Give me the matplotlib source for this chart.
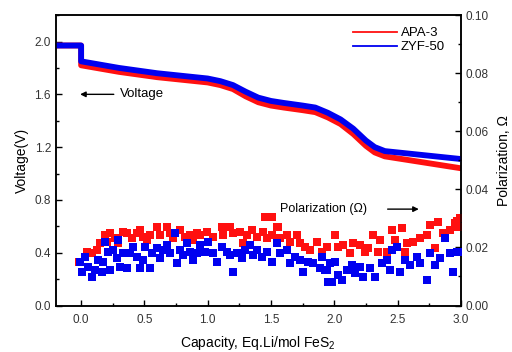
import matplotlib
matplotlib.use("Agg")
import matplotlib.pyplot as plt
from matplotlib.ticker import MultipleLocator, FormatStrFormatter
from matplotlib.lines import Line2D

plt.rcParams['font.family'] = ['Liberation Sans', 'DejaVu Sans']
plt.rcParams['mathtext.fontset'] = 'custom'
plt.rcParams['mathtext.rm'] = 'Liberation Sans'

# Voltage curves (capacity, voltage)
cap_zyf = [-0.2, 0.0, 0.0, 0.3, 0.6, 0.9, 1.0, 1.1, 1.2, 1.3, 1.4, 1.5, 1.6, 1.75, 1.85, 1.95, 2.05, 2.15, 2.25, 2.32, 2.4, 2.6, 2.8, 3.0]
v_zyf = [1.97, 1.97, 1.85, 1.80, 1.76, 1.73, 1.72, 1.70, 1.67, 1.62, 1.575, 1.55, 1.535, 1.515, 1.50, 1.46, 1.41, 1.34, 1.25, 1.20, 1.17, 1.15, 1.13, 1.11]
cap_apa = [-0.2, 0.0, 0.0, 0.3, 0.6, 0.9, 1.0, 1.1, 1.2, 1.3, 1.4, 1.5, 1.6, 1.75, 1.85, 1.95, 2.05, 2.15, 2.25, 2.32, 2.4, 2.6, 2.8, 3.0]
v_apa = [1.97, 1.97, 1.82, 1.77, 1.73, 1.70, 1.69, 1.67, 1.64, 1.585, 1.54, 1.515, 1.50, 1.48, 1.465, 1.425, 1.375, 1.30, 1.21, 1.16, 1.13, 1.10, 1.07, 1.04]

# Polarization points (capacity, ohm)
pol_apa_x = [-0.02, 0.045, 0.085, 0.124, 0.150, 0.190, 0.203, 0.229, 0.269, 0.295, 0.334, 0.361, 0.400, 0.440,
             0.466, 0.492, 0.519, 0.545, 0.598, 0.624, 0.677, 0.703, 0.729, 0.782, 0.821, 0.861, 0.887, 0.914,
             0.940, 0.993, 1.045, 1.111, 1.124, 1.177, 1.203, 1.256, 1.282, 1.309, 1.348, 1.388, 1.440, 1.467,
             1.506, 1.558, 1.572, 1.625, 1.651, 1.704, 1.730, 1.769, 1.809, 1.862, 1.901, 1.941, 1.45, 1.51, 1.546,
             2.006, 2.033, 2.072, 2.125, 2.151, 2.204, 2.243, 2.270, 2.309, 2.348, 2.362, 2.415, 2.454, 2.480,
             2.533, 2.559, 2.573, 2.625, 2.678, 2.731, 2.757, 2.796, 2.822, 2.862, 2.915, 2.954, 2.980, 2.99, 2.97]
pol_apa = [0.0151, 0.0185, 0.0180, 0.0191, 0.0214, 0.0243, 0.0220, 0.0249, 0.0231, 0.0214, 0.0254, 0.0249, 0.0231, 0.0249,
           0.0260, 0.0237, 0.0225, 0.0243, 0.0271, 0.0243, 0.0271, 0.0249, 0.0231, 0.0260, 0.0237, 0.0243, 0.0225, 0.0249,
           0.0243, 0.0254, 0.0237, 0.0271, 0.0243, 0.0271, 0.0249, 0.0254, 0.0214, 0.0243, 0.0260, 0.0237, 0.0254, 0.0231,
           0.0243, 0.0271, 0.0231, 0.0243, 0.0220, 0.0243, 0.0214, 0.0202, 0.0191, 0.0220, 0.0185, 0.0202, 0.0306, 0.0306, 0.0271,
           0.0243, 0.0202, 0.0208, 0.0180, 0.0214, 0.0208, 0.0185, 0.0197, 0.0243, 0.0185, 0.0225, 0.0185, 0.0260, 0.0225,
           0.0266, 0.0185, 0.0214, 0.0220, 0.0231, 0.0243, 0.0277, 0.0197, 0.0288, 0.0249, 0.0260, 0.0283, 0.0271, 0.0300, 0.0290]

pol_zyf_x = [-0.008, 0.005, 0.032, 0.058, 0.085, 0.111, 0.137, 0.163, 0.176, 0.190, 0.216, 0.229, 0.255, 0.282,
             0.295, 0.308, 0.334, 0.361, 0.387, 0.413, 0.440, 0.466, 0.492, 0.506, 0.545, 0.558, 0.598, 0.624,
             0.650, 0.677, 0.703, 0.743, 0.756, 0.782, 0.808, 0.835, 0.861, 0.887, 0.914,
             0.940, 0.979, 1.006, 1.045, 1.072, 1.111, 1.151, 1.177, 1.203, 1.230, 1.269, 1.296, 1.335, 1.361,
             1.388, 1.427, 1.467, 1.506, 1.546, 1.572, 1.625, 1.651, 1.690, 1.730, 1.756, 1.796, 1.835, 1.888,
             1.941, 1.954, 1.901, 1.927, 1.967, 1.980, 2.006, 2.033, 2.059, 2.099, 2.138, 2.164, 2.204, 2.230,
             2.283, 2.322, 2.375, 2.415, 2.441, 2.454, 2.494, 2.520, 2.559, 2.599, 2.652, 2.678, 2.731, 2.757,
             2.796, 2.836, 2.875, 2.915, 2.941, 2.967, 2.98]
pol_zyf = [0.0151, 0.0116, 0.0168, 0.0134, 0.0099, 0.0122, 0.0157, 0.0116, 0.0151, 0.0220, 0.0185, 0.0122, 0.0191, 0.0162,
           0.0225, 0.0134, 0.0180, 0.0128, 0.0180, 0.0202, 0.0168, 0.0128, 0.0157, 0.0202, 0.0128, 0.0180, 0.0197, 0.0162,
           0.0191, 0.0208, 0.0180, 0.0249, 0.0145, 0.0191, 0.0174, 0.0214, 0.0185, 0.0157, 0.0180,
           0.0208, 0.0185, 0.0220, 0.0180, 0.0151, 0.0202, 0.0185, 0.0174, 0.0116, 0.0180, 0.0162, 0.0191, 0.0208, 0.0174,
           0.0191, 0.0168, 0.0185, 0.0151, 0.0214, 0.0180, 0.0191, 0.0145, 0.0168, 0.0157, 0.0116, 0.0151, 0.0145, 0.0128,
           0.0122, 0.0082, 0.0168, 0.0122, 0.0145, 0.0082, 0.0151, 0.0105, 0.0088, 0.0122, 0.0139, 0.0111, 0.0134, 0.0099,
           0.0128, 0.0099, 0.0145, 0.0157, 0.0122, 0.0191, 0.0202, 0.0116, 0.0157, 0.0139, 0.0168, 0.0145, 0.0088, 0.0180,
           0.0139, 0.0162, 0.0231, 0.0180, 0.0116, 0.0185, 0.0185]

RED = '#ff1010'
BLUE = '#0000f0'

fig = plt.figure(figsize=(5.12, 3.52), dpi=100)
ax = fig.add_axes([0.109, 0.132, 0.791, 0.825])
ax2 = ax.twinx()

ax.plot(cap_apa, v_apa, color=RED, lw=4.2, solid_joinstyle='round', zorder=2)
ax.plot(cap_zyf, v_zyf, color=BLUE, lw=4.2, solid_joinstyle='round', zorder=3)

ax2.scatter(pol_apa_x, pol_apa, marker='s', s=30, color=RED, linewidths=0, zorder=2)
ax2.scatter(pol_zyf_x, pol_zyf, marker='s', s=30, color=BLUE, linewidths=0, zorder=3)

ax.set_xlim(-0.2, 3.0)
ax.set_ylim(0, 2.2)
ax2.set_ylim(0, 0.1)

ax.xaxis.set_major_locator(MultipleLocator(0.5))
ax.xaxis.set_minor_locator(MultipleLocator(0.25))
ax.yaxis.set_major_locator(MultipleLocator(0.4))
ax.yaxis.set_minor_locator(MultipleLocator(0.2))
ax2.yaxis.set_major_locator(MultipleLocator(0.02))
ax2.yaxis.set_minor_locator(MultipleLocator(0.01))
ax.xaxis.set_major_formatter(FormatStrFormatter('%.1f'))
ax.yaxis.set_major_formatter(FormatStrFormatter('%.1f'))
ax2.yaxis.set_major_formatter(FormatStrFormatter('%.2f'))

for a in (ax, ax2):
    a.tick_params(which='both', direction='in', labelsize=8.5, labelcolor='#333333', width=1.0)
    a.tick_params(which='major', length=4)
    a.tick_params(which='minor', length=2.5)
    for s in a.spines.values():
        s.set_linewidth(1.1)
ax.tick_params(axis='x', pad=6)

ax.set_xlabel('Capacity, Eq.Li/mol FeS$_2$', fontsize=10, labelpad=6)
ax.set_ylabel('Voltage(V)', fontsize=10, labelpad=4)
ax2.set_ylabel('Polarization, Ω', fontsize=10, labelpad=6)

handles = [Line2D([], [], color=RED, lw=1.3), Line2D([], [], color=BLUE, lw=1.3)]
ax.legend(handles, ['APA-3', 'ZYF-50'], loc='upper right', frameon=False, fontsize=9.5,
          handlelength=3.3, handletextpad=0.3, labelspacing=0.15, bbox_to_anchor=(0.99, 1.0))

ax.annotate('', xy=(-0.03, 1.6), xytext=(0.28, 1.6),
            arrowprops=dict(arrowstyle='-|>', color='black', lw=1.0, mutation_scale=8))
ax.text(0.31, 1.6, 'Voltage', fontsize=9.5, va='center', ha='left')
ax2.text(1.57, 0.0332, 'Polarization (Ω)', fontsize=9, va='center', ha='left')
ax2.annotate('', xy=(2.69, 0.0332), xytext=(2.40, 0.0332),
             arrowprops=dict(arrowstyle='-|>', color='black', lw=1.0, mutation_scale=8))

fig.savefig('out.png', dpi=100)
